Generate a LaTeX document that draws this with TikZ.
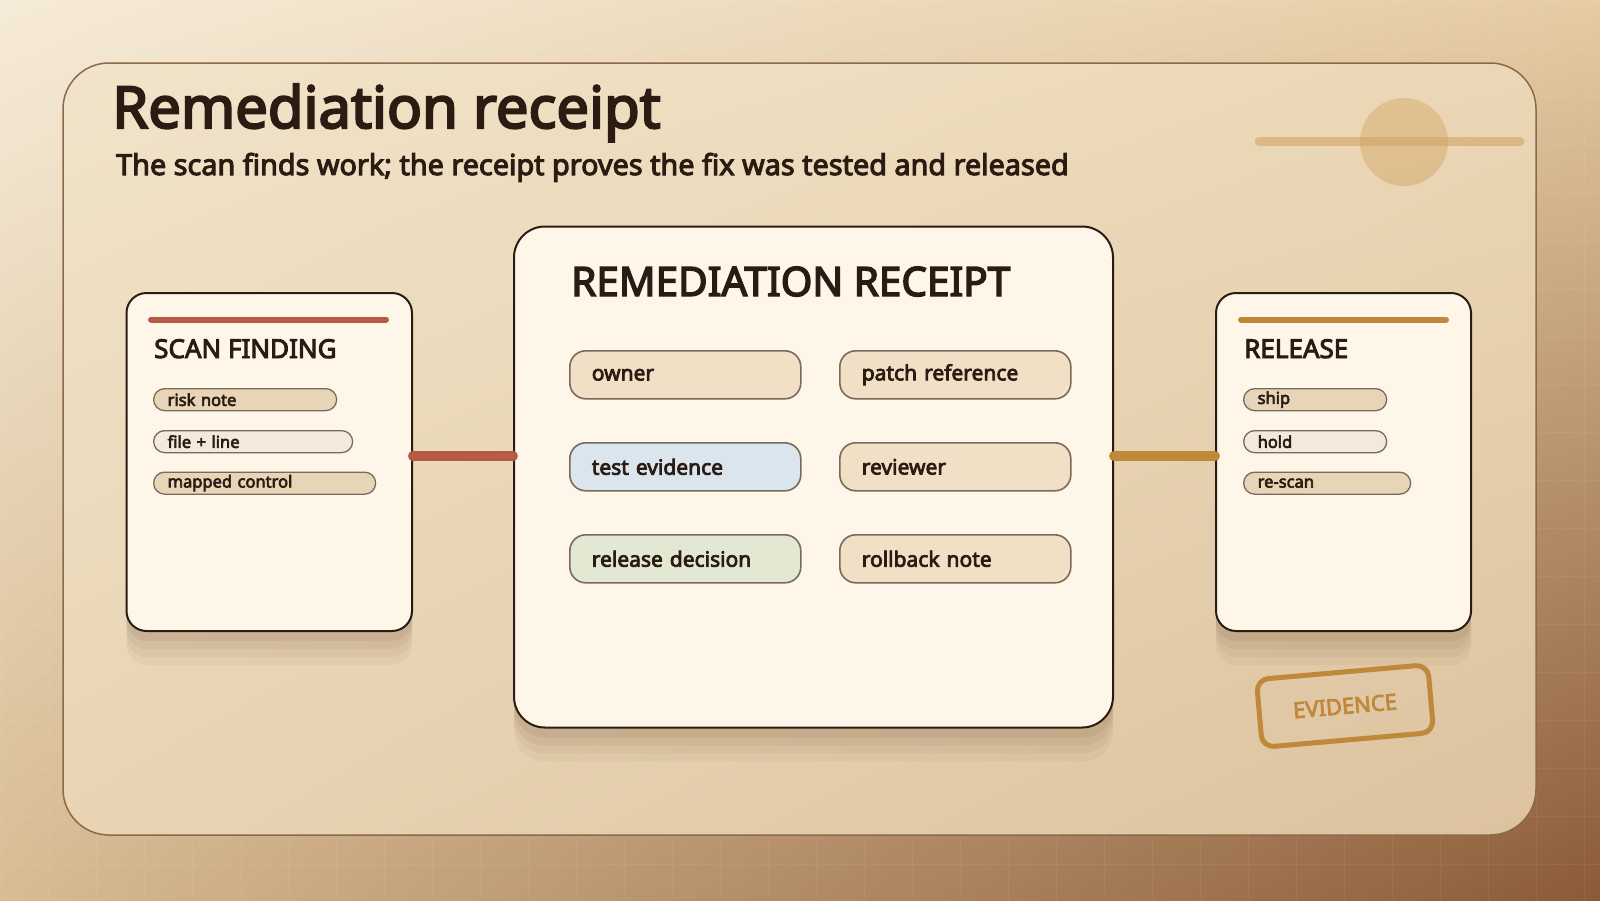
\documentclass[tikz,border=0pt]{standalone}
\usepackage{fontspec}
\setmainfont{Noto Sans}[BoldFont={Noto Sans}, BoldFeatures={FakeBold=3.6}]
\usetikzlibrary{shadings}

\definecolor{ink}{HTML}{2A1C13}
\definecolor{bgtl}{HTML}{F6EBD8}
\definecolor{bgtr}{HTML}{E6CCA3}
\definecolor{bgbl}{HTML}{D8BC93}
\definecolor{bgbr}{HTML}{8B5A37}
\definecolor{paneltl}{HTML}{F1E4CA}
\definecolor{paneltr}{HTML}{EBD7B5}
\definecolor{panelbl}{HTML}{E8D4B3}
\definecolor{panelbr}{HTML}{DCC29F}
\definecolor{panelline}{HTML}{8A6A48}
\definecolor{cardfill}{HTML}{FDF6E9}
\definecolor{shadowc}{HTML}{6B4A2C}
\definecolor{scanred}{HTML}{B55B43}
\definecolor{gold}{HTML}{C0883A}
\definecolor{tagdark}{HTML}{E8D5B8}
\definecolor{taglight}{HTML}{F3EADB}
\definecolor{tagline}{HTML}{7A6A5A}
\definecolor{fieldtan}{HTML}{F1E0C6}
\definecolor{fieldblue}{HTML}{DAE5EE}
\definecolor{fieldgreen}{HTML}{E3E8D2}
\definecolor{decotan}{HTML}{D2A464}

\tikzset{
  card/.style={draw=ink, line width=2pt, fill=cardfill, rounded corners=20pt,
    anchor=north west, inner sep=0pt,
    preaction={fill=shadowc, fill opacity=.05, transform canvas={yshift=-34pt}},
    preaction={fill=shadowc, fill opacity=.06, transform canvas={yshift=-26pt}},
    preaction={fill=shadowc, fill opacity=.07, transform canvas={yshift=-18pt}},
    preaction={fill=shadowc, fill opacity=.09, transform canvas={yshift=-10pt}}},
  cardhead/.style={anchor=base west, inner sep=0pt, text=ink, font=\fontsize{26}{28}\selectfont\bfseries},
  tag/.style={draw=tagline, line width=1.3pt, rounded corners=11pt, minimum height=22pt,
    inner xsep=14pt, inner ysep=0pt, align=left, anchor=north west, text=ink,
    font=\fontsize{16.5}{17}\selectfont\bfseries},
  field/.style={draw=tagline, line width=1.6pt, rounded corners=16pt, minimum height=48pt,
    inner xsep=22pt, inner ysep=0pt, text width=187pt, align=left, anchor=north west, text=ink,
    font=\fontsize{21}{23}\selectfont\bfseries},
  link/.style={line width=10pt, line cap=round},
  topbar/.style={line width=6pt, line cap=round}
}

\begin{document}
\begin{tikzpicture}[x=1pt,y=-1pt]
\useasboundingbox (0,0) rectangle (1600,900);

% backdrop and panel
\shade[upper left=bgtl, upper right=bgtr, lower left=bgbl, lower right=bgbr] (0,0) rectangle (1600,900);
\draw[white, opacity=.06, line width=1pt] (0,0) grid[step=48pt] (1600,900);
\shade[rounded corners=46pt, upper left=paneltl, upper right=paneltr, lower left=panelbl, lower right=panelbr]
  (63,63) rectangle (1536,835);
\draw[panelline, line width=1.5pt, rounded corners=46pt] (63,63) rectangle (1536,835);

\draw[decotan, opacity=.6, line width=9pt, line cap=round] (1259,141) -- (1520,141);
\fill[decotan, opacity=.45] (1404,142) circle (44);

\node[anchor=base west, inner sep=0pt, text=ink, font=\fontsize{58}{62}\selectfont\bfseries] (title) at (112,128) {Remediation receipt};
\node[anchor=base west, inner sep=0pt, text=ink, font=\fontsize{28.8}{32}\selectfont\bfseries] (subtitle) at (116,175)
  {The scan finds work; the receipt proves the fix was tested and released};

% cards
\node[card, minimum width=285.5pt, minimum height=338pt] (scan) at (125.5,292) {};
\node[card, minimum width=599pt, minimum height=501pt, rounded corners=31pt] (receipt) at (513,225.5) {};
\node[card, minimum width=255pt, minimum height=338pt] (release) at (1215,292) {};

\coordinate (midrow) at (0,456);
\draw[link, scanred] (scan.east |- midrow) -- (receipt.west |- midrow);
\draw[link, gold] (receipt.east |- midrow) -- (release.west |- midrow);

% scan finding
\draw[topbar, scanred] (151,319.5) -- (386,319.5);
\node[cardhead] (scanhd) at (154,358) {SCAN FINDING};
\node[tag, fill=tagdark, text width=155pt] (risk) at (153,388) {risk note};
\node[tag, fill=taglight, text width=171pt] (fileline) at (153,430) {file + line};
\node[tag, fill=tagdark, text width=194pt] (mapped) at (153,471.5) {mapped control};

% receipt
\node[anchor=base west, inner sep=0pt, text=ink, font=\fontsize{40.5}{44}\selectfont\bfseries] (receipthd) at (571,296) {REMEDIATION RECEIPT};
\node[field, fill=fieldtan] (owner) at (569,350) {owner};
\node[field, fill=fieldtan] (patch) at (839,350) {patch reference};
\node[field, fill=fieldblue] (testev) at (569,442) {test evidence};
\node[field, fill=fieldtan] (reviewer) at (839,442) {reviewer};
\node[field, fill=fieldgreen] (decision) at (569,534) {release decision};
\node[field, fill=fieldtan] (rollback) at (839,534) {rollback note};

% release
\draw[topbar, gold] (1241,319.5) -- (1446,319.5);
\node[cardhead] (releasehd) at (1244,358) {RELEASE};
\node[tag, fill=tagdark, text width=115pt] (ship) at (1243,388) {ship};
\node[tag, fill=taglight, text width=115pt] (hold) at (1243,430) {hold};
\node[tag, fill=tagdark, text width=139pt] (rescan) at (1243,471.5) {re-scan};

\node[draw=gold, line width=5pt, rounded corners=12pt, minimum width=172pt, minimum height=68pt,
  rotate=5, text=gold, font=\fontsize{22}{24}\selectfont\bfseries] (stamp) at (1345,706) {EVIDENCE};
\end{tikzpicture}
\end{document}
